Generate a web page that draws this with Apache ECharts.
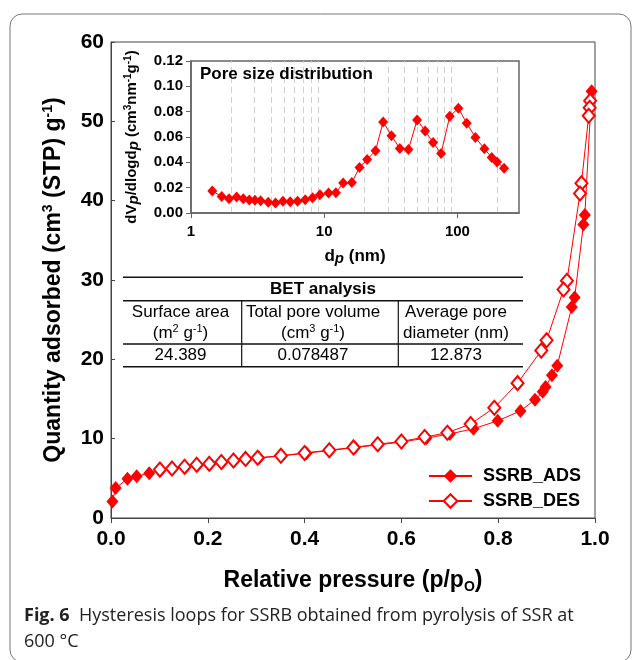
<!DOCTYPE html>
<html><head><meta charset="utf-8">
<script src="https://cdn.jsdelivr.net/npm/echarts@6/dist/echarts.min.js"></script>
<style>html,body{margin:0;padding:0;background:#fff}#c{width:632px;height:660px}</style>
</head><body><div id="c"></div>
<script>
// ---- Main isotherm data ----
const adsX = [0.003,0.0096,0.034,0.053,0.079,0.103,0.127,0.154,0.179,0.205,0.230,0.255,0.280,0.306,0.353,0.404,0.452,0.504,0.552,0.601,0.652,0.700,0.749,0.799,0.846,0.876,0.892,0.898,0.911,0.922,0.952,0.958,0.976,0.979,0.993];
const adsY = [2.07,3.78,4.94,5.27,5.64,6.06,6.18,6.39,6.64,6.80,7.01,7.22,7.43,7.55,7.84,8.17,8.51,8.88,9.21,9.59,10.08,10.6,11.25,12.25,13.5,14.9,15.9,16.5,18.0,19.2,26.6,27.8,37.0,38.2,53.8];
const desX = [0.990,0.989,0.987,0.972,0.969,0.942,0.935,0.900,0.889,0.840,0.792,0.743,0.695,0.648,0.600,0.551,0.501,0.451,0.400,0.351,0.303,0.278,0.253,0.228,0.203,0.177,0.152,0.126,0.101];
const desY = [52.6,51.7,50.7,42.2,40.9,29.9,28.8,22.4,21.1,17.0,13.9,11.85,10.75,10.2,9.65,9.3,8.9,8.55,8.2,7.85,7.6,7.45,7.25,7.05,6.85,6.7,6.45,6.25,6.1];
const seriesNames = ['SSRB_ADS','SSRB_DES'];

// ---- Inset pore size distribution ----
const poreD = [1.445,1.70,1.93,2.20,2.47,2.74,3.02,3.33,3.80,4.31,4.90,5.56,6.31,7.20,8.18,9.28,10.78,12.24,13.88,16.12,18.41,21.01,24.27,27.70,31.99,36.94,42.90,49.83,57.21,65.69,75.42,87.62,101.7,117.5,136.5,159.4,180.9,198.4,223.9];
const poreV = [0.0173,0.0131,0.0113,0.0126,0.0113,0.0102,0.0100,0.0097,0.0084,0.0079,0.0092,0.0089,0.0092,0.0105,0.0121,0.0144,0.0157,0.0160,0.0236,0.0241,0.0360,0.0423,0.0491,0.0719,0.0609,0.0509,0.0501,0.0735,0.0648,0.0556,0.0470,0.0764,0.0827,0.0709,0.0596,0.0507,0.0438,0.0402,0.0354];
const insetMinorGrid = [2,3,4,5,6,7,8,9,20,30,40,50,60,70,80,90,200];

// ---- BET table ----
const tableTitle = 'BET analysis';
const tableHead1 = ['Surface area','Total pore volume','Average pore'];
const tableHead2 = ['(m{sup|2} g{sup|-1})','(cm{sup|3} g{sup|-1})','diameter (nm)'];
const tableValues = ['24.389','0.078487','12.873'];

const captionBold = 'Fig. 6';
const captionLine1 = 'Hysteresis loops for SSRB obtained from pyrolysis of SSR at';
const captionLine2 = '600 °C';

const FF = '"Liberation Sans", Arial, sans-serif';
const CF = '"Open Sans", sans-serif';
const RED = '#ff0000';
const zip = (a,b) => a.map((v,i)=>[v,b[i]]);

const supRich = {
  sup:{fontSize:14,fontWeight:'bold',fontFamily:FF,color:'#000',lineHeight:14,verticalAlign:'top'},
  sub:{fontSize:14,fontWeight:'bold',fontFamily:FF,color:'#000',lineHeight:14,verticalAlign:'bottom'}
};
const insetRich = {
  sup:{fontSize:10,fontWeight:'bold',fontFamily:FF,color:'#000',lineHeight:10,verticalAlign:'top'},
  ip:{fontSize:15,fontWeight:'bold',fontStyle:'italic',fontFamily:FF,color:'#000',lineHeight:15,verticalAlign:'bottom'}
};

// table graphics
const tL = 123, tR = 523, c1 = 241.7, c2 = 398.3;
const rowY = [277.3, 300.7, 344, 366.7];
const colC = [180.5, 313, 456];
const tableG = [];
rowY.forEach(y => tableG.push({type:'line', shape:{x1:tL,y1:y,x2:tR,y2:y}, style:{stroke:'#111',lineWidth:1.5}, z:10}));
[c1,c2].forEach(x => tableG.push({type:'line', shape:{x1:x,y1:rowY[1],x2:x,y2:rowY[3]}, style:{stroke:'#111',lineWidth:1.2}, z:10}));
tableG.push({type:'text', x:(tL+tR)/2, y:289, style:{text:tableTitle, fontFamily:FF, fontSize:17, fontWeight:'bold', fill:'#000', align:'center', verticalAlign:'middle'}, z:10});
const tRich = {sup:{fontSize:11,fontFamily:FF,fill:'#000',lineHeight:12,verticalAlign:'top'}};
for (let i=0;i<3;i++){
  tableG.push({type:'text', x:colC[i], y:312.5, style:{text:tableHead1[i], fontFamily:FF, fontSize:17, fill:'#000', align:'center', verticalAlign:'middle'}, z:10});
  tableG.push({type:'text', x:colC[i], y:333.5, style:{text:tableHead2[i], fontFamily:FF, fontSize:17, fill:'#000', align:'center', verticalAlign:'middle', lineHeight:20, rich:tRich}, z:10});
  tableG.push({type:'text', x:colC[i], y:355.5, style:{text:tableValues[i], fontFamily:FF, fontSize:17, fill:'#000', align:'center', verticalAlign:'middle'}, z:10});
}

const chart = echarts.init(document.getElementById('c'), null, {renderer:'canvas'});
chart.setOption({
  animation:false,
  backgroundColor:'#fff',
  textStyle:{fontFamily:FF},
  graphic:[
    {type:'rect', shape:{x:10,y:14,width:621,height:648,r:12}, style:{fill:'none',stroke:'#777',lineWidth:1}, z:0},
    {type:'text', x:200, y:74, style:{text:'Pore size distribution', fontFamily:FF, fontSize:17, fontWeight:'bold', fill:'#000', verticalAlign:'middle'}, z:20},
    ...tableG,
    {type:'text', x:24, y:616, style:{text:'{b|'+captionBold+'}  '+captionLine1, fontFamily:CF, fontSize:18, fill:'#222', verticalAlign:'middle',
      rich:{b:{fontWeight:'bold',fontSize:18,fontFamily:CF,fill:'#222'}}}, z:10},
    {type:'text', x:24, y:642, style:{text:captionLine2, fontFamily:CF, fontSize:18, fill:'#222', verticalAlign:'middle'}, z:10}
  ],
  legend:{
    data:seriesNames, orient:'vertical', left:423, top:462, padding:5, itemWidth:43, itemHeight:17, itemGap:7,
    textStyle:{fontSize:18,fontWeight:'bold',color:'#000',fontFamily:FF,lineHeight:17,padding:[0,0,0,6]}
  },
  grid:[
    {left:111, right:37, top:42, bottom:142, show:true, borderColor:'#444', borderWidth:1, backgroundColor:'transparent'},
    {left:191, right:113, top:61, bottom:447, show:true, borderColor:'#666', borderWidth:1.5, backgroundColor:'#fff', z:5}
  ],
  xAxis:[
    {type:'value', gridIndex:0, min:0, max:1, interval:0.2,
     axisLine:{lineStyle:{color:'#444'}}, axisTick:{inside:false,length:5,lineStyle:{color:'#444'}}, splitLine:{show:false},
     axisLabel:{formatter:v=>v.toFixed(1), fontSize:21, fontWeight:'bold', color:'#000', margin:11},
     name:'Relative pressure (p/p{sub|O})', nameLocation:'middle', nameGap:50,
     nameTextStyle:{fontSize:23, fontWeight:'bold', color:'#000', lineHeight:26, rich:supRich}},
    {type:'log', gridIndex:1, min:1, max:290, logBase:10, z:6,
     axisLine:{lineStyle:{color:'#666',width:1.5}}, axisTick:{length:5,lineStyle:{color:'#666'}}, splitLine:{show:false},
     axisLabel:{fontSize:15, fontWeight:'bold', color:'#000', margin:11, showMaxLabel:false},
     name:'d{ip|p} (nm)', nameLocation:'middle', nameGap:33,
     nameTextStyle:{fontSize:17, fontWeight:'bold', color:'#000', lineHeight:20, rich:insetRich}}
  ],
  yAxis:[
    {type:'value', gridIndex:0, min:0, max:60, interval:10,
     axisLine:{lineStyle:{color:'#444'}}, axisTick:{inside:true,length:4,lineStyle:{color:'#444'}}, splitLine:{show:false},
     axisLabel:{fontSize:21, fontWeight:'bold', color:'#000', margin:7},
     name:'Quantity adsorbed (cm{sup|3} (STP) g{sup|-1})', nameLocation:'middle', nameGap:44,
     nameTextStyle:{fontSize:23, fontWeight:'bold', color:'#000', lineHeight:26, rich:supRich}},
    {type:'value', gridIndex:1, min:0, max:0.12, interval:0.02, z:6,
     axisLine:{lineStyle:{color:'#666',width:1.5}}, axisTick:{length:5,lineStyle:{color:'#666'}}, splitLine:{show:false},
     axisLabel:{formatter:v=>v.toFixed(2), fontSize:15, fontWeight:'bold', color:'#000', margin:8},
     name:'dV{ip|p}/dlogd{ip|p} (cm{sup|3}nm{sup|-1}g{sup|-1})', nameLocation:'middle', nameGap:50,
     nameTextStyle:{fontSize:15, fontWeight:'bold', color:'#000', lineHeight:18, rich:insetRich}}
  ],
  series:[
    {name:seriesNames[0], type:'line', xAxisIndex:0, yAxisIndex:0, data:zip(adsX,adsY),
     symbol:'diamond', symbolSize:[12,14], itemStyle:{color:RED}, lineStyle:{color:RED,width:1}, z:3},
    {name:seriesNames[1], type:'line', xAxisIndex:0, yAxisIndex:0, data:zip(desX,desY),
     symbol:'emptyDiamond', symbolSize:[12,14], itemStyle:{color:RED,borderWidth:1}, lineStyle:{color:RED,width:1}, z:4},
    {name:'PSD', type:'line', xAxisIndex:1, yAxisIndex:1, data:zip(poreD,poreV),
     symbol:'diamond', symbolSize:[10,11], itemStyle:{color:RED}, lineStyle:{color:RED,width:1}, z:7,
     markLine:{silent:true, symbol:['none','none'], label:{show:false}, animation:false,
       lineStyle:{type:[6,4], color:'#cfcfcf', width:1}, emphasis:{disabled:true},
       data:insetMinorGrid.map(v=>({xAxis:v}))}}
  ]
});
</script></body></html>
